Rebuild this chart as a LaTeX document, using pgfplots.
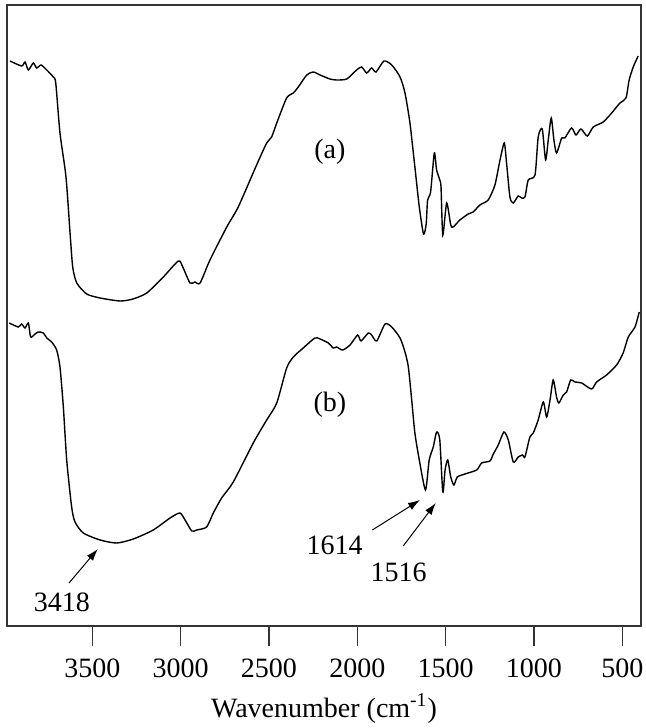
\documentclass[border=0pt]{standalone}
\usepackage{fontspec}
\setmainfont{Liberation Serif}
\usepackage{pgfplots}
\usepackage{pgfplotstable}
\pgfplotsset{compat=1.18}
\usetikzlibrary{arrows.meta}

% FTIR spectrum (a): wavenumber (cm^-1), transmittance (arb. units)
\pgfplotstableread{
wn T
3966 565
3900 560
3881 564
3862 556
3834 563
3815 558
3790 561
3758 556
3721 549
3707 543
3683 493
3649 449
3626 393
3611 359
3588 343
3532 332
3456 328
3343 325
3270 327
3192 333
3098 349
3013 365
2988 359
2947 343
2919 344
2890 343
2834 366
2739 399
2674 419
2570 461
2513 483
2485 489
2456 503
2400 528
2362 533
2334 539
2286 551
2249 554
2211 551
2155 547
2117 546
2060 547
2004 556
1975 559
1947 553
1919 558
1894 554
1849 565
1805 561
1758 549
1730 533
1702 503
1674 459
1649 419
1625 392
1610 402
1602 426
1585 434
1564 473
1551 456
1533 446
1526 439
1516 391
1494 423
1471 401
1457 399
1419 406
1372 412
1344 414
1306 421
1259 426
1221 441
1192 466
1168 483
1155 463
1136 429
1117 423
1089 430
1070 428
1051 429
1032 446
994 451
976 489
953 497
934 466
919 486
902 508
887 486
872 473
843 488
825 488
787 498
762 491
734 497
698 490
664 499
608 504
560 513
513 523
479 528
461 546
438 559
410 570
}\specA

% FTIR spectrum (b)
\pgfplotstableread{
wn T
3970 303
3919 299
3900 302
3881 298
3862 303
3849 289
3824 292
3806 294
3777 293
3758 288
3730 284
3702 276
3683 259
3664 219
3645 166
3617 119
3598 104
3551 93
3456 86
3362 83
3268 87
3155 96
3060 108
3004 113
2975 106
2937 95
2909 96
2853 99
2815 113
2768 128
2702 144
2589 183
2513 206
2456 223
2400 258
2362 269
2306 278
2240 288
2211 287
2164 283
2136 278
2117 279
2083 276
2041 281
1998 291
1979 285
1938 293
1919 291
1890 285
1843 302
1805 299
1758 288
1730 274
1711 259
1692 226
1674 193
1649 166
1614 136
1593 166
1570 179
1551 194
1533 186
1516 134
1503 156
1488 166
1471 149
1453 141
1434 149
1391 152
1324 156
1296 163
1249 165
1230 172
1202 181
1170 194
1145 186
1117 164
1089 169
1064 171
1051 169
1023 189
1004 193
976 206
947 224
928 209
909 226
891 246
872 229
859 223
834 231
815 234
792 246
768 244
730 243
674 237
645 244
589 251
532 261
495 273
466 289
428 299
404 314
}\specB

\begin{document}
\begin{tikzpicture}[font=\fontsize{14}{16.5}\selectfont]
\begin{axis}[
  scale only axis,
  width=317pt, height=310.5pt,
  x dir=reverse,
  xmin=394, xmax=3983,
  ymin=0, ymax=621,
  xtick={500,1000,...,3500},
  ytick=\empty,
  xtick pos=left,
  tick align=outside,
  major tick length=10pt,
  axis line style={line width=0.7pt, black!80},
  every tick/.style={line width=0.7pt, black!80},
  scaled x ticks=false,
  /pgf/number format/1000 sep={},
  /pgf/number format/assume math mode=true,
  xticklabel style={font=\fontsize{14}{16.5}\selectfont, inner sep=0pt, yshift=-6pt},
  xlabel={Wavenumber (cm\textsuperscript{-1})},
  xlabel style={at={(axis description cs:0.5,0)}, anchor=base, yshift=-45.5pt},
  clip=false,
]
\addplot[black, line width=0.7pt, smooth, tension=0.4] table[x=wn, y=T] {\specA};
\addplot[black, line width=0.7pt, smooth, tension=0.4] table[x=wn, y=T] {\specB};

\node at (axis cs:2155,474) {(a)};
\node at (axis cs:2155,221) {(b)};

\node at (axis cs:3673,24) {3418};
\node at (axis cs:2128,81) {1614};
\node at (axis cs:1766,54) {1516};

\draw[-{Latex[length=6pt,width=4pt]}, line width=0.5pt] (axis cs:3632,43) -- (axis cs:3469,77);
\draw[-{Latex[length=6pt,width=4pt]}, line width=0.5pt] (axis cs:1915,96) -- (axis cs:1645,126);
\draw[-{Latex[length=6pt,width=4pt]}, line width=0.5pt] (axis cs:1740,80) -- (axis cs:1556,123);
\end{axis}
\pgfresetboundingbox
\path[use as bounding box] ([xshift=-3.5pt,yshift=-51pt]current axis.south west)
  rectangle ([xshift=2pt,yshift=2.5pt]current axis.north east);
\end{tikzpicture}
\end{document}
